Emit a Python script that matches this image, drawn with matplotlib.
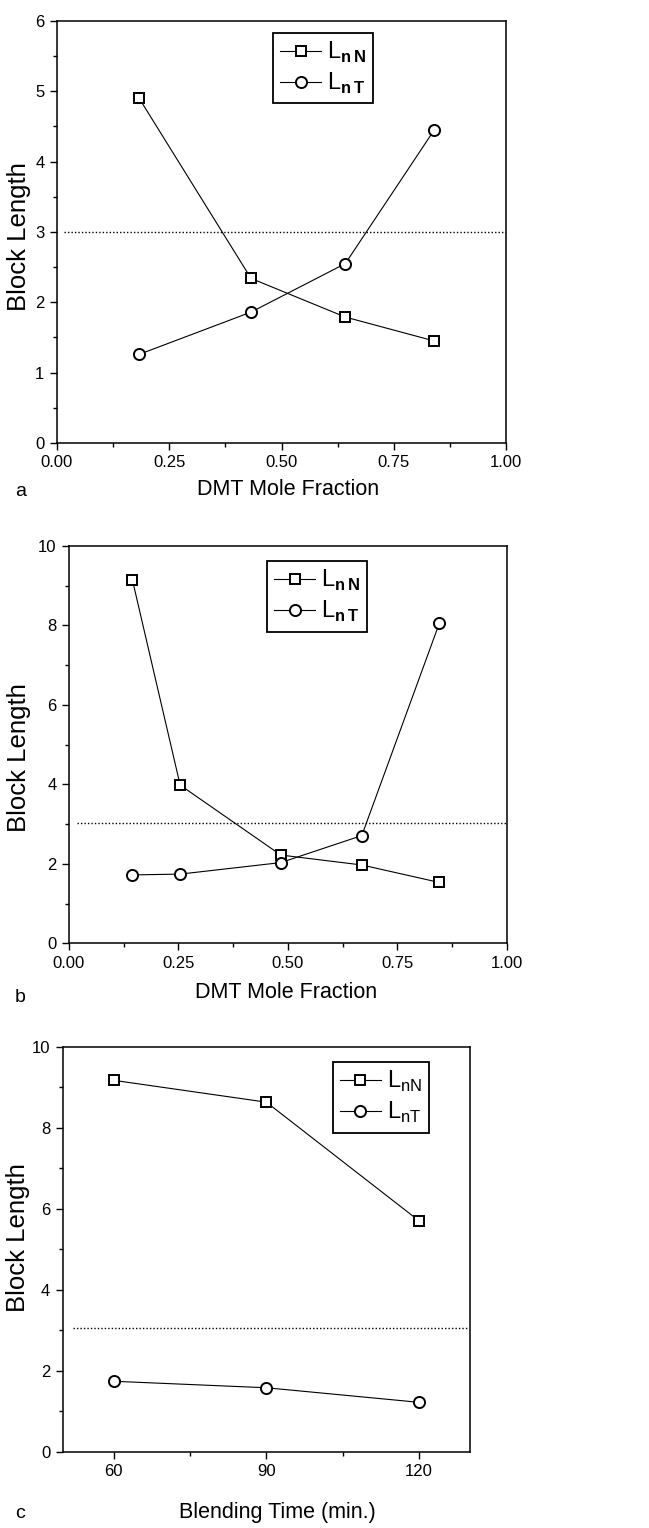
import matplotlib
matplotlib.use('Agg')
import matplotlib.pyplot as plt
from matplotlib.ticker import MultipleLocator, FormatStrFormatter
from matplotlib import font_manager

# data
a_x_N = [0.183, 0.432, 0.642, 0.840]
a_y_N = [4.90, 2.34, 1.79, 1.45]
a_x_T = [0.183, 0.432, 0.642, 0.840]
a_y_T = [1.26, 1.86, 2.55, 4.45]

b_x_N = [0.145, 0.254, 0.484, 0.669, 0.846]
b_y_N = [9.14, 3.98, 2.22, 1.97, 1.53]
b_x_T = [0.145, 0.254, 0.484, 0.669, 0.846]
b_y_T = [1.72, 1.74, 2.03, 2.71, 8.05]

c_x = [60, 90, 120]
c_y_N = [9.17, 8.63, 5.70]
c_y_T = [1.74, 1.58, 1.22]

ref_a = 3.0
ref_b = 3.02
ref_c = 3.05

names = [f.name for f in font_manager.fontManager.ttflist]
narrow = 'Liberation Sans Narrow' if 'Liberation Sans Narrow' in names else 'Liberation Sans'

plt.rcParams['font.family'] = ['Liberation Sans', 'DejaVu Sans']
plt.rcParams['mathtext.fontset'] = 'custom'
plt.rcParams['mathtext.rm'] = narrow
plt.rcParams['mathtext.bf'] = narrow + ':bold'
plt.rcParams['axes.linewidth'] = 1.1

fig = plt.figure(figsize=(6.49, 15.28), dpi=100)


def panel(rect, xlim, ylim, xmaj, xmin, ymaj, ymin, xfmt):
    ax = fig.add_axes(rect)
    ax.set_xlim(*xlim)
    ax.set_ylim(*ylim)
    ax.xaxis.set_major_locator(MultipleLocator(xmaj))
    ax.xaxis.set_minor_locator(MultipleLocator(xmin))
    ax.yaxis.set_major_locator(MultipleLocator(ymaj))
    ax.yaxis.set_minor_locator(MultipleLocator(ymin))
    if xfmt:
        ax.xaxis.set_major_formatter(xfmt)
    ax.tick_params(which='major', direction='out', length=5, width=1, labelsize=12,
                   labelfontfamily=narrow, pad=4)
    ax.tick_params(which='minor', direction='out', length=3, width=1)
    return ax


def draw(ax, xN, yN, xT, yT, labN, labT, ref, x0, x1):
    ax.plot(xN, yN, color='black', lw=0.8, marker='s', ms=7, mfc='white', mec='black', mew=1.4, label=labN)
    ax.plot(xT, yT, color='black', lw=0.8, marker='o', ms=8, mfc='white', mec='black', mew=1.4, label=labT)
    ax.plot([x0, x1], [ref, ref], color='black', lw=1, ls=(0, (1, 1.5)))


def legend(ax, anchor):
    leg = ax.legend(loc='upper left', bbox_to_anchor=anchor, frameon=True, fancybox=False,
                    edgecolor='black', framealpha=1, prop={'family': narrow, 'size': 17},
                    handlelength=1.75, handletextpad=0.25, borderpad=0.3,
                    labelspacing=0.25, borderaxespad=0)
    leg.get_frame().set_linewidth(1.3)


def labels(ax, xl, xpos, ypos):
    ax.set_xlabel(xl, fontsize=15.5, va='center')
    ax.xaxis.set_label_coords(*xpos)
    ax.set_ylabel('Block Length', fontsize=18.5, va='center')
    ax.yaxis.set_label_coords(*ypos)


fmt2 = FormatStrFormatter('%.2f')

# panel a
ax1 = panel([0.0878, 0.7101, 0.692, 0.2762], (0, 1), (0, 6), 0.25, 0.125, 1, 0.5, fmt2)
draw(ax1, a_x_N, a_y_N, a_x_T, a_y_T, r'L$_{\mathbf{n\,N}}$', r'L$_{\mathbf{n\,T}}$', ref_a, 0.015, 1.0)
legend(ax1, (0.481, 0.972))
labels(ax1, 'DMT Mole Fraction', (0.514, -0.111), (-0.085, 0.49))

# panel b
ax2 = panel([0.1063, 0.3827, 0.6744, 0.26], (0, 1), (0, 10), 0.25, 0.125, 2, 1, fmt2)
draw(ax2, b_x_N, b_y_N, b_x_T, b_y_T, r'L$_{\mathbf{n\,N}}$', r'L$_{\mathbf{n\,T}}$', ref_b, 0.018, 1.0)
legend(ax2, (0.452, 0.962))
labels(ax2, 'DMT Mole Fraction', (0.495, -0.125), (-0.115, 0.468))

# panel c
ax3 = panel([0.0966, 0.0499, 0.6276, 0.2651], (50, 130), (0, 10), 30, 15, 2, 1, None)
draw(ax3, c_x, c_y_N, c_x, c_y_T, r'L$_{\mathrm{nN}}$', r'L$_{\mathrm{nT}}$', ref_c, 52, 129.4)
legend(ax3, (0.663, 0.962))
labels(ax3, 'Blending Time (min.)', (0.526, -0.149), (-0.11, 0.53))

fig.text(15 / 649, 1 - 492 / 1528, 'a', fontsize=14, ha='left', va='center')
fig.text(15 / 649, 1 - 997 / 1528, 'b', fontsize=14, ha='left', va='center')
fig.text(15 / 649, 1 - 1514 / 1528, 'c', fontsize=14, ha='left', va='center')

fig.savefig('out.png', dpi=100)
